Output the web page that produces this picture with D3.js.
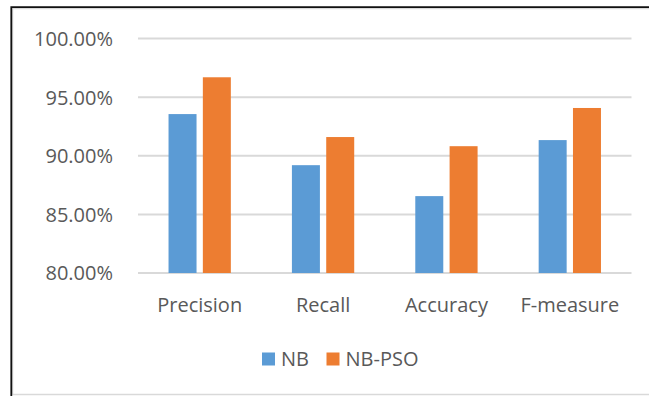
<!DOCTYPE html>
<html>
<head>
<meta charset="utf-8">
<script src="https://cdn.jsdelivr.net/npm/d3@7"></script>
<style>
  body { margin: 0; background: #fff; }
  text { font-family: "Open Sans", sans-serif; fill: #595959; }
</style>
</head>
<body>
<div id="chart"></div>
<script>
// Chart data
const categories = ["Precision", "Recall", "Accuracy", "F-measure"];
const seriesNames = ["NB", "NB-PSO"];
const nbValues = [0.9356, 0.892, 0.8656, 0.9134];
const nbPsoValues = [0.967, 0.916, 0.9082, 0.9408];
const yTicks = [0.80, 0.85, 0.90, 0.95, 1.00];

const colors = { "NB": "#5B9BD5", "NB-PSO": "#ED7D31" };

const W = 649, H = 396;
const margin = { top: 38.6, left: 138, right: 17.5, bottom: 123 };

const svg = d3.select("#chart")
  .append("svg")
    .attr("width", W)
    .attr("height", H);

// outer frame: light edge plus dark top/left line
svg.append("rect")
  .attr("x", 12.5).attr("y", 8.5)
  .attr("width", W).attr("height", 386)
  .attr("fill", "none")
  .attr("stroke", "#d9d9d9")
  .attr("stroke-width", 1.5);
svg.append("path")
  .attr("d", `M11.3,${H} V7.2 H${W}`)
  .attr("fill", "none")
  .attr("stroke", "#111")
  .attr("stroke-width", 1.8);

// scales
const x0 = d3.scaleBand()
  .domain(categories)
  .range([margin.left, W - margin.right])
  .padding(0);

const x1 = d3.scaleBand()
  .domain(seriesNames)
  .range([0, x0.bandwidth()])
  .paddingInner(0.184)
  .paddingOuter(0.89);

const y = d3.scaleLinear()
  .domain([0.8, 1.0])
  .range([H - margin.bottom, margin.top]);

// gridlines
svg.append("g")
  .selectAll("line")
  .data(yTicks)
  .join("line")
    .attr("x1", margin.left)
    .attr("x2", W - margin.right)
    .attr("y1", d => y(d))
    .attr("y2", d => y(d))
    .attr("stroke", "#d9d9d9")
    .attr("stroke-width", 2);

// y axis labels
const yAxis = d3.axisLeft(y)
  .tickValues(yTicks)
  .tickFormat(d3.format(".2%"))
  .tickSize(0)
  .tickPadding(0);
const yAxisG = svg.append("g")
  .attr("transform", `translate(113,0)`)
  .call(yAxis);
yAxisG.select(".domain").remove();
yAxisG.selectAll("text")
  .attr("font-size", 20)
  .attr("font-family", null)
  .attr("dy", "0.34em");

// bars
const rows = categories.map((c, i) => ({
  category: c,
  values: [
    { name: "NB", value: nbValues[i] },
    { name: "NB-PSO", value: nbPsoValues[i] }
  ]
}));

svg.append("g")
  .selectAll("g")
  .data(rows)
  .join("g")
    .attr("transform", d => `translate(${x0(d.category)},0)`)
  .selectAll("rect")
  .data(d => d.values)
  .join("rect")
    .attr("x", d => x1(d.name))
    .attr("y", d => y(d.value))
    .attr("width", x1.bandwidth())
    .attr("height", d => y(0.8) - y(d.value))
    .attr("fill", d => colors[d.name]);

// x axis labels
const xAxis = d3.axisBottom(x0).tickSize(0).tickPadding(0);
const xAxisG = svg.append("g")
  .attr("transform", `translate(0,312)`)
  .call(xAxis);
xAxisG.select(".domain").remove();
xAxisG.selectAll("text")
  .attr("font-size", 20)
  .attr("font-family", null)
  .attr("dy", 0);

// legend
const legendItems = [
  { name: "NB", x: 262 },
  { name: "NB-PSO", x: 326.5 }
];
const legend = svg.append("g");
legend.selectAll("rect")
  .data(legendItems)
  .join("rect")
    .attr("x", d => d.x)
    .attr("y", 352.5)
    .attr("width", 13)
    .attr("height", 13)
    .attr("fill", d => colors[d.name]);
legend.selectAll("text")
  .data(legendItems)
  .join("text")
    .attr("x", d => d.x + 19)
    .attr("y", 366)
    .attr("font-size", 20)
    .text(d => d.name);
</script>
</body>
</html>
